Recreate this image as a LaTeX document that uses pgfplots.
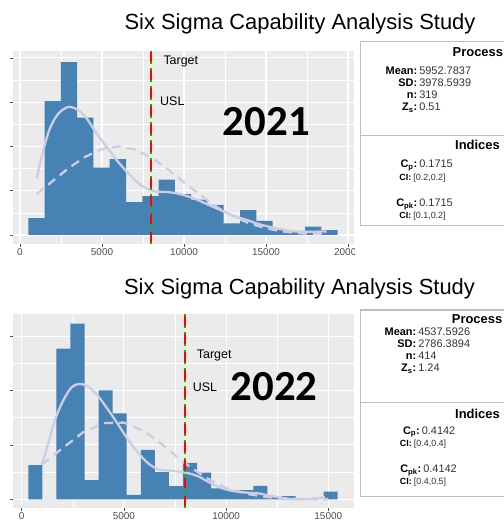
\documentclass[border=0pt]{standalone}
\usepackage{pgfplots}
\pgfplotsset{compat=1.18}
\usepackage{fontspec}
\setmainfont{Liberation Sans}
\newfontfamily\calibri{Carlito}
\definecolor{barc}{HTML}{4682B4}
\definecolor{panel}{HTML}{EBEBEB}
\definecolor{dens}{HTML}{CDCDE4}
\definecolor{tickc}{HTML}{4D4D4D}
\definecolor{vgreen}{HTML}{00C000}
\definecolor{boxc}{HTML}{BEBEBE}
\definecolor{valc}{HTML}{333333}

\pgfplotsset{
 ssaxis/.style={
  scale only axis,
  axis background/.style={fill=panel},
  axis line style={draw=none},
  grid=both,
  major grid style={white, line width=1.1bp},
  minor grid style={white, line width=0.5bp},
  minor tick num=1,
  tick align=outside,
  xtick pos=lower, ytick pos=left,
  major tick length=3bp,
  minor tick length=0pt,
  tick style={tickc, line width=0.6bp},
  scaled ticks=false,
  yticklabels={},
  xticklabel style={font=\fontsize{10}{12}\selectfont, text=tickc, inner sep=1.5bp},
 },
 densn/.style={dens, line width=2.3bp, dash pattern=on 9bp off 6bp},
 denss/.style={dens, line width=2.3bp, smooth, tension=0.5},
 histo/.style={ybar interval, fill=barc, draw=none},
}
\newcommand\lbl[5]{% x y label value size
  \node[anchor=base east, inner sep=0, font=\fontsize{#5}{#5}\selectfont\bfseries] at (#1bp,#2bp) {#3};
  \node[anchor=base west, inner sep=0, font=\fontsize{#5}{#5}\selectfont, text=valc] at (#1bp+1.6bp,#2bp) {#4};}

\begin{document}
\begin{tikzpicture}
\path[use as bounding box] (0,0) rectangle (504bp,525bp);
% ---------------- 2021 ----------------
\node[anchor=base, inner sep=0, font=\fontsize{22}{26}\selectfont] at (300bp,495.7bp) {Six Sigma Capability Analysis Study};
\begin{axis}[ssaxis, at={(13.3bp,281.14bp)}, anchor=south west,
  width=340.7bp, height=192.7bp,
  xmin=-409, xmax=20366, ymin=-2, ymax=41.5,
  xtick={0,5000,10000,15000,20000},
  xticklabels={0,5000,10000,15000,20000},
  ytick={0,10,20,30,40}]
\addplot[histo] coordinates {
 (506,3.8) (1499,30.2) (2492,39.0) (3485,26.5) (4478,15.2) (5471,17.1)
 (6464,7.4) (7457,8.8) (8450,12.5) (9443,9.2) (10436,8.0) (11429,6.8)
 (12422,2.6) (13415,5.6) (14408,3.2) (15401,1.1) (16394,0.6) (17387,1.9)
 (18380,1.1) (19373,1.1)};
\addplot[denss] coordinates {
 (1016,12.8) (1423,19.2) (1829,24.1) (2337,27.4) (2947,28.9) (3557,28.2)
 (4065,26.3) (4675,22.9) (5285,19.9) (5894,16.9) (6504,14.3) (7114,12.0)
 (7724,10.5) (8333,9.8) (8943,9.7) (9553,9.4) (10162,8.8) (10772,8.0)
 (11382,7.0) (11992,6.0) (12602,5.0) (13211,4.1) (13821,3.4) (14431,2.6)
 (15040,2.0) (15650,1.5) (16260,1.1) (16870,0.8) (17479,0.75) (18088,0.75) (18699,0.8)};
\addplot[densn] coordinates {
 (1000,9.2) (2000,12.2) (3000,15.2) (4000,17.7) (5000,19.4) (6000,20.0)
 (7000,19.3) (8000,17.5) (9000,14.9) (10000,11.9) (11000,9.0) (12000,6.3)
 (13000,4.2) (14000,2.6) (15000,1.5) (16000,0.8) (17000,0.4) (18000,0.2) (18700,0.1)};
\addplot[vgreen, line width=2bp, dash pattern=on 14bp off 4bp] coordinates {(8000,-2) (8000,41.5)};
\addplot[red, line width=2bp, dash pattern=on 0bp off 2bp on 10bp off 6bp] coordinates {(8000,-2) (8000,41.5)};
\node[anchor=base west, inner sep=0, font=\fontsize{12.5}{14}\selectfont] at (axis cs:8738,38.6) {Target};
\node[anchor=base west, inner sep=0, font=\fontsize{12.5}{14}\selectfont] at (axis cs:8537,29.2) {USL};
\node[inner sep=0, font=\calibri\bfseries\fontsize{43}{50}\selectfont] at (axis cs:15018,25.6) {2021};
\end{axis}
\fill[white] (354.6bp,262bp) rectangle (530bp,487bp);
\draw[boxc, line width=1.5bp] (360.7bp,299.3bp) -- (530bp,299.3bp) -- (530bp,483.7bp) -- (360.7bp,483.7bp) -- cycle;
\draw[boxc, line width=1.5bp] (360.7bp,389.7bp) -- (530bp,389.7bp);
\node[anchor=base west, inner sep=0, font=\fontsize{13}{16}\selectfont\bfseries] at (452.5bp,468.7bp) {Process};
\lbl{417.5}{450.5}{Mean:}{5952.7837}{11}
\lbl{417.5}{438.5}{SD:}{3978.5939}{11}
\lbl{417.5}{426.5}{n:}{319}{11}
\lbl{417.5}{414.5}{Z\textsubscript{s}:}{0.51}{11}
\node[anchor=base west, inner sep=0, font=\fontsize{13}{16}\selectfont\bfseries] at (455bp,375bp) {Indices};
\lbl{417.5}{357}{C\textsubscript{p}:}{0.1715}{11}
\lbl{411.5}{344.3}{CI:}{[0.2,0.2]}{9}
\lbl{417.5}{318}{C\textsubscript{pk}:}{0.1715}{11}
\lbl{411.5}{306}{CI:}{[0.1,0.2]}{9}
% ---------------- 2022 ----------------
\node[anchor=base, inner sep=0, font=\fontsize{22}{26}\selectfont] at (299.5bp,230.7bp) {Six Sigma Capability Analysis Study};
\begin{axis}[ssaxis, at={(13.3bp,16.9bp)}, anchor=south west,
  width=340.7bp, height=193.6bp,
  xmin=-411, xmax=16257, ymin=-1.62, ymax=33.97,
  xtick={0,5000,10000,15000},
  xticklabels={0,5000,10000,15000},
  ytick={0,10,20,30}]
\addplot[histo] coordinates {
 (323,6.3) (1011,0) (1699,27.7) (2387,32.3) (3075,3.5) (3763,20.0)
 (4451,15.8) (5139,0.8) (5827,9.1) (6515,5.0) (7203,2.4) (7891,6.7)
 (8579,4.9) (9267,2.0) (9955,1.7) (10643,1.7) (11331,2.45) (12019,0.4)
 (12707,0.6) (13395,0) (14083,0) (14771,1.4) (15459,1.4)};
\addplot[denss] coordinates {
 (977,6.3) (1303,10.3) (1629,14.6) (2037,18.2) (2444,20.6) (2820,21.2)
 (3260,20.7) (3749,18.9) (4238,16.4) (4728,13.7) (5217,10.9) (5706,8.5)
 (6195,6.6) (6685,5.5) (7174,5.3) (7663,5.1) (8153,4.8) (8642,4.2)
 (9131,3.2) (9620,2.3) (10110,1.7) (10599,1.4) (11088,1.2) (11577,1.1)
 (12066,0.7) (12556,0.4) (13045,0.1) (13534,0.0) (14023,0.06) (14512,0.25) (14838,0.37)};
\addplot[densn] coordinates {
 (1000,6.4) (2000,9.4) (3000,12.3) (4000,14.0) (5000,14.1) (6000,12.5)
 (7000,9.7) (8000,6.6) (9000,4.0) (10000,2.1) (11000,1.0) (12000,0.4)
 (13000,0.14) (14000,0.04) (15000,0.01)};
\addplot[vgreen, line width=2bp, dash pattern=on 14bp off 4bp] coordinates {(8000,-1.62) (8000,33.97)};
\addplot[red, line width=2bp, dash pattern=on 0bp off 2bp on 10bp off 6bp] coordinates {(8000,-1.62) (8000,33.97)};
\node[anchor=base west, inner sep=0, font=\fontsize{12.5}{14}\selectfont] at (axis cs:8562,25.9) {Target};
\node[anchor=base west, inner sep=0, font=\fontsize{12.5}{14}\selectfont] at (axis cs:8366,19.8) {USL};
\node[inner sep=0, font=\calibri\bfseries\fontsize{43}{50}\selectfont] at (axis cs:12353,20.7) {2022};
\end{axis}
\draw[boxc, line width=1.5bp] (360.7bp,28.3bp) -- (530bp,28.3bp) -- (530bp,215bp) -- (360.7bp,215bp) -- cycle;
\draw[boxc, line width=1.5bp] (360.7bp,122.7bp) -- (530bp,122.7bp);
\node[anchor=base west, inner sep=0, font=\fontsize{13}{16}\selectfont\bfseries] at (451.7bp,201bp) {Process};
\lbl{416.5}{189}{Mean:}{4537.5926}{11}
\lbl{416.5}{177}{SD:}{2786.3894}{11}
\lbl{416.5}{165}{n:}{414}{11}
\lbl{416.5}{153}{Z\textsubscript{s}:}{1.24}{11}
\node[anchor=base west, inner sep=0, font=\fontsize{13}{16}\selectfont\bfseries] at (455bp,106.7bp) {Indices};
\lbl{420}{90.7}{C\textsubscript{p}:}{0.4142}{11}
\lbl{412}{78.3}{CI:}{[0.4,0.4]}{9}
\lbl{421.5}{52.3}{C\textsubscript{pk}:}{0.4142}{11}
\lbl{412}{40}{CI:}{[0.4,0.5]}{9}
\end{tikzpicture}
\end{document}
